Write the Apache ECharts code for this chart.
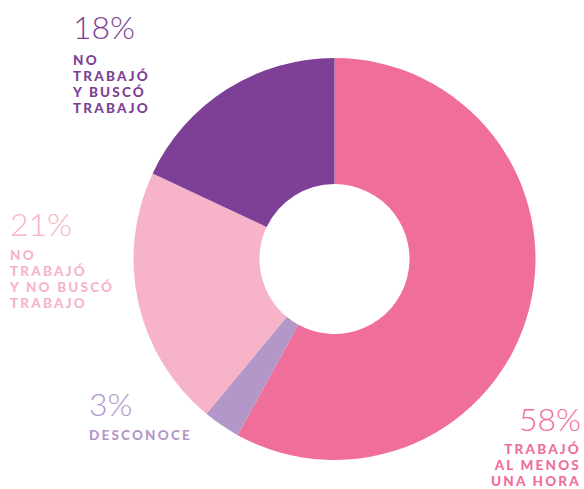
<!DOCTYPE html>
<html><head><meta charset="utf-8">
<style>html,body{margin:0;padding:0;background:#fff}#chart{width:584px;height:489px}</style>
<script src="https://cdn.jsdelivr.net/npm/echarts@6/dist/echarts.min.js"></script>
</head><body><div id="chart"></div>
<script>
var categories = ['TRABAJÓ\nAL MENOS\nUNA HORA', 'DESCONOCE', 'NO\nTRABAJÓ\nY NO BUSCÓ\nTRABAJO', 'NO\nTRABAJÓ\nY BUSCÓ\nTRABAJO'];
var values = [58, 3, 21, 18];
var colors = ['#F06E9A', '#B397C8', '#F7B4C8', '#7E3F96'];
// label anchor positions: [x, pctCenterY, labelMiddleY, align]
var labelPos = [[581, 418, 465, 'right'], [89, 403, 434.5, 'left'], [10, 223, 278.5, 'left'], [73, 26, 83.5, 'left']];

var chart = echarts.init(document.getElementById('chart'), null, {renderer: 'svg'});
var graphics = [];
values.forEach(function (v, i) {
  var p = labelPos[i];
  graphics.push({type: 'text', x: p[0], y: p[1], style: {text: v + '%', fill: colors[i], font: '300 32px Lato', textAlign: p[3], textVerticalAlign: 'middle'}});
  graphics.push({type: 'text', x: p[0], y: p[2], style: {text: categories[i], fill: colors[i], font: '900 13.5px Lato', lineHeight: 16, textAlign: p[3], textVerticalAlign: 'middle'}});
});
chart.setOption({
  animation: false,
  series: [{
    type: 'pie', center: [334.5, 259], radius: [75, 201], startAngle: 90, clockwise: true,
    label: {show: false}, labelLine: {show: false}, silent: true,
    data: values.map(function (v, i) { return {value: v, name: categories[i], itemStyle: {color: colors[i]}}; })
  }],
  graphic: graphics
});
function spacing() {
  document.querySelectorAll('#chart text').forEach(function (t) {
    var fs = parseFloat(getComputedStyle(t).fontSize);
    if (fs < 20) t.style.letterSpacing = '2.2px';
  });
}
spacing();
chart.on('finished', spacing);
</script></body></html>
